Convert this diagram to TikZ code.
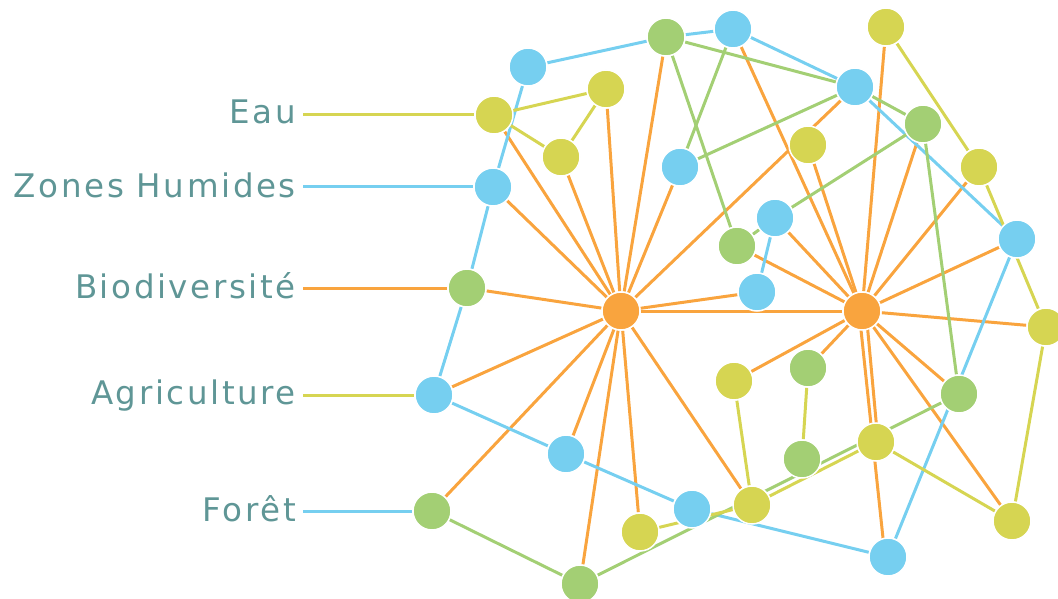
\documentclass[tikz,border=0pt]{standalone}
\usepackage{fontspec}
\usepackage{tikz}
\usepackage{xcolor}

\newfontfamily\themefont[LetterSpace=8]{DejaVu Sans}
\definecolor{netblue}{RGB}{118,207,240}
\definecolor{netgreen}{RGB}{163,207,116}
\definecolor{netyellow}{RGB}{214,213,82}
\definecolor{netorange}{RGB}{249,164,62}
\definecolor{themeteal}{RGB}{95,150,150}
\pgfdeclarelayer{links}
\pgfsetlayers{links,main}

\begin{document}
\begin{tikzpicture}[x=1pt, y=-1pt,
  dot/.style={circle, minimum size=38pt, inner sep=0pt, draw=white, line width=1.5pt},
  bl/.style={dot, fill=netblue},
  gr/.style={dot, fill=netgreen},
  ye/.style={dot, fill=netyellow},
  hub/.style={dot, fill=netorange},
  lk/.style={line width=3pt},
  theme/.style={anchor=base east, inner sep=0pt, text=themeteal, font=\themefont\fontsize{32.5}{38}\selectfont}]
  \useasboundingbox (0,0) rectangle (1058,599);

  % theme labels on the left
  \node[theme] (leau) at (296,124) {Eau};
  \node[theme] (lzones) at (296,197) {Zones Humides};
  \node[theme] (lbio) at (296,298) {Biodiversité};
  \node[theme] (lagri) at (296,404) {Agriculture};
  \node[theme] (lforet) at (296,521) {Forêt};
  \coordinate (ceau) at (303,115);
  \coordinate (czones) at (303,187);
  \coordinate (cbio) at (303,288);
  \coordinate (cagri) at (303,395);
  \coordinate (cforet) at (303,511);

  % blue nodes
  \node[bl] (b1) at (528,67) {};
  \node[bl] (b2) at (733,29) {};
  \node[bl] (b3) at (855,87) {};
  \node[bl] (b4) at (680,167) {};
  \node[bl] (b5) at (493,187) {};
  \node[bl] (b6) at (775,218) {};
  \node[bl] (b7) at (1017,239) {};
  \node[bl] (b8) at (757,292) {};
  \node[bl] (b9) at (434,395) {};
  \node[bl] (b10) at (566,454) {};
  \node[bl] (b11) at (692,509) {};
  \node[bl] (b12) at (888,557) {};
  % green nodes
  \node[gr] (g1) at (666,37) {};
  \node[gr] (g2) at (923,124) {};
  \node[gr] (g3) at (737,246) {};
  \node[gr] (g4) at (467,288) {};
  \node[gr] (g5) at (808,368) {};
  \node[gr] (g6) at (959,394) {};
  \node[gr] (g7) at (802,459) {};
  \node[gr] (g8) at (432,511) {};
  \node[gr] (g9) at (580,584) {};
  % yellow nodes
  \node[ye] (y1) at (886,27) {};
  \node[ye] (y2) at (606,89) {};
  \node[ye] (y3) at (494,115) {};
  \node[ye] (y4) at (561,157) {};
  \node[ye] (y5) at (808,145) {};
  \node[ye] (y6) at (979,167) {};
  \node[ye] (y7) at (1046,327) {};
  \node[ye] (y8) at (734,381) {};
  \node[ye] (y9) at (876,442) {};
  \node[ye] (y10) at (752,505) {};
  \node[ye] (y11) at (640,532) {};
  \node[ye] (y12) at (1012,521) {};
  % the two hubs
  \node[hub] (o1) at (621,311) {};
  \node[hub] (o2) at (862,311) {};

  \begin{pgfonlayer}{links}
    \draw[lk, netyellow] (ceau) -- (y3);
    \draw[lk, netblue] (czones) -- (b5);
    \draw[lk, netorange] (cbio) -- (g4);
    \draw[lk, netyellow] (cagri) -- (b9);
    \draw[lk, netblue] (cforet) -- (g8);

    \foreach \a in {y3,b5,y4,y2,g1,b4,b3,b8,o2,g4,b9,g8,b10,g9,y11,y10}
      \draw[lk, netorange] (o1) -- (\a);
    \foreach \a in {b2,y5,y1,g2,y6,b7,y7,g3,b6,y8,g5,g6,y12}
      \draw[lk, netorange] (o2) -- (\a);
    \draw[lk, netorange] ([xshift=-3pt]o2.center) -- ([xshift=-3pt]b12.center);
    \draw[lk, netorange] ([xshift=4pt]o2.center) -- ([xshift=2pt]y9.center);

    \foreach \a/\b in {b1/g1, g1/b2, b2/b3, b3/b7, b7/b12, b12/b11, b11/b10,
                       b10/b9, b9/g4, g4/b5, b5/b1, b6/b8}
      \draw[lk, netblue] (\a) -- (\b);
    \foreach \a/\b in {g1/b3, g1/g3, b2/b4, b4/b3, b3/g2, g2/b6, b6/g3,
                       g2/g6, g9/g6, g8/g9}
      \draw[lk, netgreen] (\a) -- (\b);
    \foreach \a/\b in {y3/y2, y3/y4, y4/y2, y1/y6, y6/y7, y7/y12, y12/y9,
                       y9/y10, y10/y11, y8/y10, g5/g7}
      \draw[lk, netyellow] (\a) -- (\b);
  \end{pgfonlayer}
\end{tikzpicture}
\end{document}
